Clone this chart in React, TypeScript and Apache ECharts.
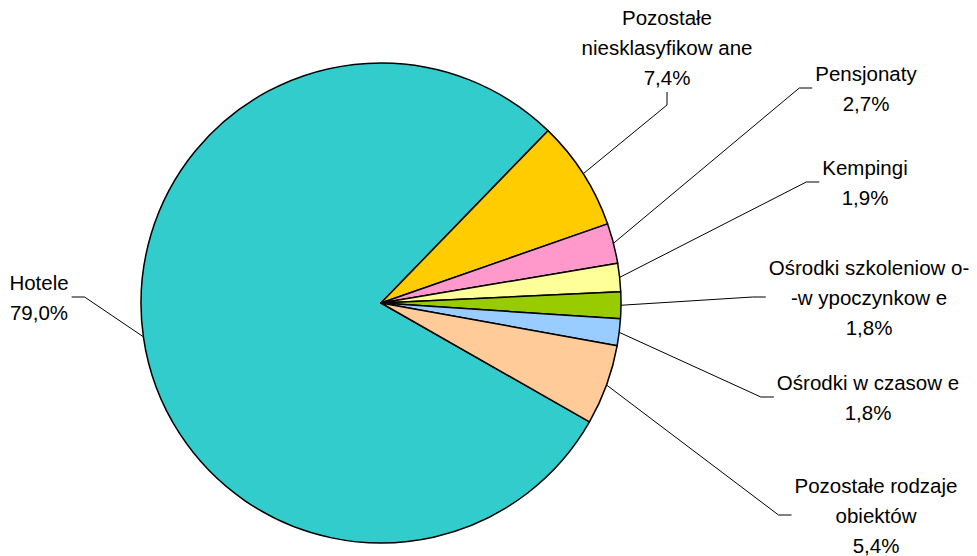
import React, { useEffect, useRef } from "react";
import * as echarts from "echarts";

const categories = [
  "Hotele",
  "Pozostałe\nniesklasyfikow ane",
  "Pensjonaty",
  "Kempingi",
  "Ośrodki szkoleniow o-\n-w ypoczynkow e",
  "Ośrodki w czasow e",
  "Pozostałe rodzaje\nobiektów",
];
const values = [79.0, 7.4, 2.7, 1.9, 1.8, 1.8, 5.4];
const colors = ["#33CCCC", "#FFCC00", "#FF99CC", "#FFFF99", "#99CC00", "#99CCFF", "#FFCC99"];
// label centre positions (px)
const labelX = [39, 667, 866, 865, 869, 868, 876];
const labelY = [297, 47, 88, 182, 297, 397, 515];

export default function App() {
  const ref = useRef<HTMLDivElement>(null);
  useEffect(() => {
    if (!ref.current) return;
    const chart = echarts.init(ref.current, undefined, { renderer: "svg" });
    chart.setOption({
      animation: false,
      backgroundColor: "#ffffff",
      series: [
        {
          type: "pie",
          center: [381, 303],
          radius: 240,
          startAngle: 330.3,
          clockwise: true,
          avoidLabelOverlap: false,
          data: categories.map((name, i) => ({
            name,
            value: values[i],
            itemStyle: { color: colors[i] },
          })),
          itemStyle: { borderColor: "#000000", borderWidth: 1.5 },
          label: {
            show: true,
            position: "outside",
            color: "#000000",
            fontFamily: "Liberation Sans, Arial, sans-serif",
            fontSize: 20.5,
            lineHeight: 30,
            align: "center",
            padding: [0, 3],
            formatter: (p: any) => p.name + "\n" + p.value.toFixed(1).replace(".", ",") + "%",
          },
          labelLine: {
            show: true,
            length: 20,
            length2: 13,
            smooth: false,
            lineStyle: { color: "#000000", width: 1 },
          },
          labelLayout: (p: any) => ({
            x: labelX[p.dataIndex],
            y: labelY[p.dataIndex],
            align: "center",
            verticalAlign: "middle",
          }),
          emphasis: { disabled: true },
        },
      ],
    });
    return () => chart.dispose();
  }, []);
  return (
    <div
      ref={ref}
      style={{ position: "absolute", left: 0, top: 0, width: 977, height: 556 }}
    />
  );
}
